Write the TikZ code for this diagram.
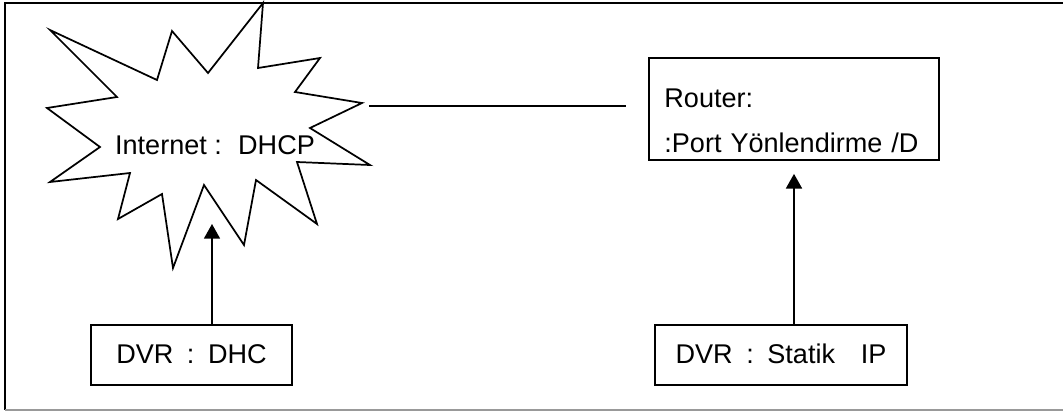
\documentclass[tikz,border=0pt]{standalone}
\usepackage{fontspec}
\setmainfont{Liberation Sans}
\usetikzlibrary{calc,arrows.meta}
\usetikzlibrary{positioning}
\definecolor{dv-line}{HTML}{000000}
\definecolor{dv-frame}{HTML}{999999}
\newcommand{\gap}[1]{\hspace{#1em}}

\begin{document}
\begin{tikzpicture}[
    x=0.75pt, y=-0.75pt,
    font=\fontsize{20.3pt}{24pt}\selectfont,
    >={Triangle[width=12pt,length=11pt]}
  ]

  % Global Style Definitions
  \tikzset{
    box/.style={draw=dv-line, line width=1.3pt, rectangle, inner sep=0pt, text height=1.25em, text depth=0pt, align=center},
    link/.style={draw=dv-line, line width=1.3pt},
    burst/.style={draw=dv-line, line width=1.3pt, line join=miter}
  }

  \useasboundingbox (0,0) rectangle (1063,411);

  % Page frame
  \draw[dv-line, line width=1.3pt] (1063,3) -- (5,3) -- (5,410);
  \draw[dv-frame, line width=1.3pt] (5,410) -- (1063,410);

  % Internet starburst
  \draw[burst] (263,3) -- (258,68) -- (320,58) -- (295,92) -- (362,103)
    -- (310,128) -- (370,165) -- (297,162) -- (317,224) -- (256,180)
    -- (244,245) -- (204,185) -- (173,268) -- (162,194) -- (118,219)
    -- (130,173) -- (50,182) -- (100,147) -- (47,108) -- (117,97)
    -- (50,30) -- (157,80) -- (172,31) -- (208,73) -- cycle;
  \node (internet) at (215,145) {Internet :\gap{0.6}DHCP};
  \coordinate (burst-e) at (369,106);
  \coordinate (burst-s) at (212,224);

  % Boxes
  \node (router) [box, minimum width=217.5pt, minimum height=76.5pt,
    label={[align=left, anchor=west, inner sep=0pt, font=\fontsize{20.3pt}{33.75pt}\selectfont, yshift=-8.6pt]west:\hspace*{12pt}Router:\\\hspace*{12pt}:Port\gap{0.33}Yönlendirme\gap{0.33}/D}] at (794,109) {};
  \node (dhc)    [box, minimum width=150.75pt, minimum height=45pt] at (191.5,355) {DVR\gap{0.5}:\gap{0.5}DHC};
  \node (statik) [box, minimum width=189pt, minimum height=45pt] at (781,355) {DVR\gap{0.5}:\gap{0.5}Statik\gap{0.95}IP};

  % Connectors
  \draw[link, shorten >=16.5pt] (burst-e) -- (burst-e -| router.west);
  \draw[link, ->] (burst-s |- dhc.north) -- (burst-s);
  \draw[link, ->, shorten >=9.75pt] (statik.north -| router.south) -- (router.south);

\end{tikzpicture}
\end{document}
